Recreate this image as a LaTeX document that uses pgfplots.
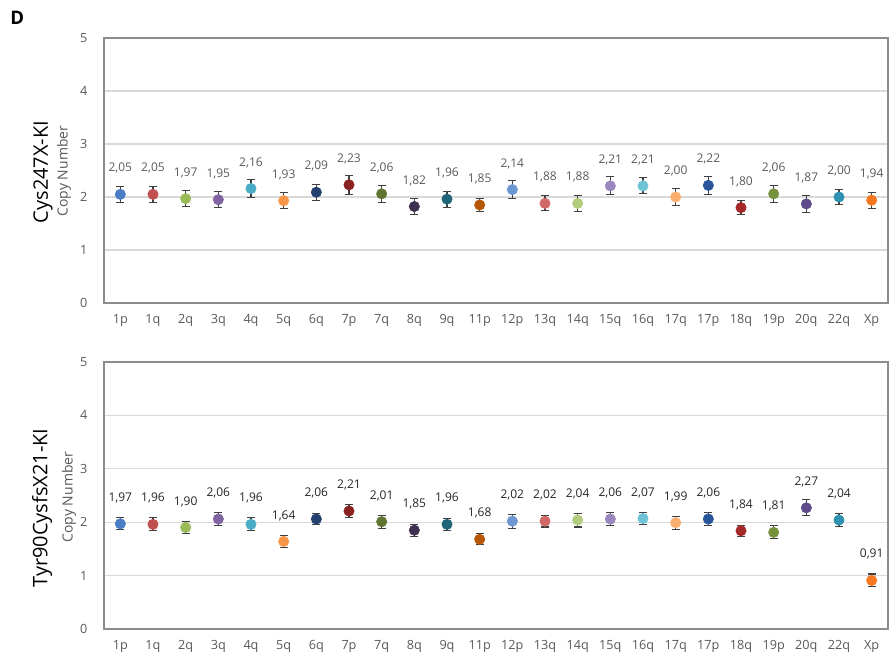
\documentclass[border=0pt]{standalone}
\usepackage{pgfplots}
\pgfplotsset{compat=1.18}
\usepackage{fontspec}
\setmainfont{Open Sans}

\definecolor{tickgray}{HTML}{595959}
\definecolor{framegray}{HTML}{8C8C8C}
\definecolor{gridgray}{HTML}{D9D9D9}
\definecolor{errgray}{HTML}{404040}

\definecolor{c0}{RGB}{74,126,196}
\definecolor{c1}{RGB}{192,80,77}
\definecolor{c2}{RGB}{155,187,89}
\definecolor{c3}{RGB}{128,100,162}
\definecolor{c4}{RGB}{75,172,198}
\definecolor{c5}{RGB}{247,150,70}
\definecolor{c6}{RGB}{35,64,110}
\definecolor{c7}{RGB}{140,35,35}
\definecolor{c8}{RGB}{95,117,48}
\definecolor{c9}{RGB}{63,49,81}
\definecolor{c10}{RGB}{31,100,120}
\definecolor{c11}{RGB}{182,87,8}
\definecolor{c12}{RGB}{110,150,210}
\definecolor{c13}{RGB}{210,105,105}
\definecolor{c14}{RGB}{180,205,125}
\definecolor{c15}{RGB}{155,135,190}
\definecolor{c16}{RGB}{110,195,215}
\definecolor{c17}{RGB}{250,175,110}
\definecolor{c18}{RGB}{40,85,155}
\definecolor{c19}{RGB}{165,40,40}
\definecolor{c20}{RGB}{118,146,60}
\definecolor{c21}{RGB}{95,75,140}
\definecolor{c22}{RGB}{45,145,175}
\definecolor{c23}{RGB}{245,120,30}

% one chromosome arm: index, value, error
\newcommand{\arm}[3]{%
  \addplot[draw=none, mark=none, forget plot,
    error bars/.cd, y dir=both, y explicit,
    error bar style={errgray, line width=0.8pt},
    error mark options={errgray, rotate=90, mark size=3pt, line width=0.8pt}]
    coordinates {(#1,#2) +- (0,#3)};
  \addplot[only marks, mark=*, mark size=3.9pt, color=c#1,
    point meta=y,
    nodes near coords={\pgfmathprintnumber[fixed, fixed zerofill, precision=2, use comma]{\pgfplotspointmeta}}]
    coordinates {(#1,#2)};}

\pgfplotsset{
  panel/.style={
    anchor=south west, scale only axis, width=588pt,
    xmin=-0.5, xmax=23.5, ymin=0, ymax=5,
    xtick={0,...,23},
    xticklabels={1p,1q,2q,3q,4q,5q,6q,7p,7q,8q,9q,11p,12p,13q,14q,15q,16q,17q,17p,18q,19p,20q,22q,Xp},
    ytick={0,...,5},
    ymajorgrids, grid style={gridgray, line width=0.8pt},
    axis line style={framegray, line width=1pt},
    major tick length=0pt,
    /pgf/number format/assume math mode=true,
    tick label style={font=\fontsize{9.5}{11}\selectfont, text=tickgray},
    xticklabel style={yshift=-5pt},
    yticklabel style={xshift=-9pt},
    clip=false,
    every node near coord/.append style={anchor=center, yshift=19.5pt, font=\fontsize{9}{10}\selectfont},
  },
}

\begin{document}
\begin{tikzpicture}
\useasboundingbox (0,0) rectangle (668.25pt,-492.75pt);

\begin{axis}[panel, at={(78pt,-227.25pt)}, height=198.75pt,
  every node near coord/.append style={text=tickgray}]
  \arm{0}{2.05}{0.15}
  \arm{1}{2.05}{0.15}
  \arm{2}{1.97}{0.15}
  \arm{3}{1.95}{0.15}
  \arm{4}{2.16}{0.17}
  \arm{5}{1.93}{0.15}
  \arm{6}{2.09}{0.15}
  \arm{7}{2.23}{0.18}
  \arm{8}{2.06}{0.16}
  \arm{9}{1.82}{0.15}
  \arm{10}{1.96}{0.15}
  \arm{11}{1.85}{0.13}
  \arm{12}{2.14}{0.17}
  \arm{13}{1.88}{0.14}
  \arm{14}{1.88}{0.15}
  \arm{15}{2.21}{0.17}
  \arm{16}{2.21}{0.15}
  \arm{17}{2.00}{0.16}
  \arm{18}{2.22}{0.17}
  \arm{19}{1.80}{0.13}
  \arm{20}{2.06}{0.16}
  \arm{21}{1.87}{0.16}
  \arm{22}{2.00}{0.15}
  \arm{23}{1.94}{0.15}
\end{axis}

\begin{axis}[panel, at={(78pt,-471.75pt)}, height=200.25pt,
  every node near coord/.append style={text=black!85}]
  \arm{0}{1.97}{0.11}
  \arm{1}{1.96}{0.12}
  \arm{2}{1.90}{0.11}
  \arm{3}{2.06}{0.13}
  \arm{4}{1.96}{0.12}
  \arm{5}{1.64}{0.11}
  \arm{6}{2.06}{0.10}
  \arm{7}{2.21}{0.13}
  \arm{8}{2.01}{0.12}
  \arm{9}{1.85}{0.11}
  \arm{10}{1.96}{0.11}
  \arm{11}{1.68}{0.10}
  \arm{12}{2.02}{0.13}
  \arm{13}{2.02}{0.11}
  \arm{14}{2.04}{0.13}
  \arm{15}{2.06}{0.12}
  \arm{16}{2.07}{0.12}
  \arm{17}{1.99}{0.12}
  \arm{18}{2.06}{0.13}
  \arm{19}{1.84}{0.10}
  \arm{20}{1.81}{0.12}
  \arm{21}{2.27}{0.15}
  \arm{22}{2.04}{0.12}
  \arm{23}{0.91}{0.12}
\end{axis}

\node[font=\fontsize{14}{16}\selectfont\bfseries] at (13pt,-13.5pt) {D};
\node[rotate=90, font=\fontsize{10.5}{12}\selectfont, text=tickgray] at (48pt,-128.25pt) {Copy Number};
\node[rotate=90, font=\fontsize{15}{17}\selectfont] at (32.25pt,-129pt) {Cys247X-KI};
\node[rotate=90, font=\fontsize{10.5}{12}\selectfont, text=tickgray] at (51.75pt,-372.75pt) {Copy Number};
\node[rotate=90, font=\fontsize{15}{17}\selectfont] at (31.5pt,-381pt) {Tyr90CysfsX21-KI};
\end{tikzpicture}
\end{document}
